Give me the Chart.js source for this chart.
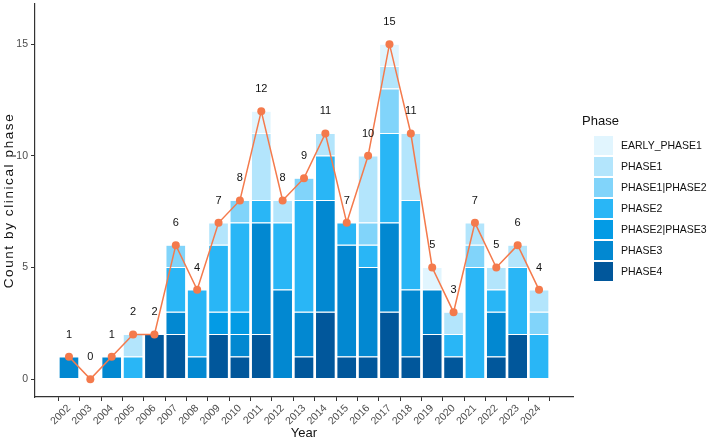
<!DOCTYPE html>
<html>
<head>
<meta charset="utf-8">
<script src="https://cdn.jsdelivr.net/npm/chart.js@4/dist/chart.umd.min.js"></script>
<style>
  html, body { margin: 0; padding: 0; background: #fff; }
  #wrap { width: 709px; height: 442px; position: relative; }
</style>
</head>
<body>
<div id="wrap"><canvas id="chart"></canvas></div>
<script>
const years = [2002, 2003, 2004, 2005, 2006, 2007, 2008, 2009, 2010, 2011, 2012, 2013,
  2014, 2015, 2016, 2017, 2018, 2019, 2020, 2021, 2022, 2023, 2024];

// counts per phase, bottom of stack first
const phase4 =      [0, 0, 0, 0, 2, 2, 0, 2, 1, 2, 0, 1, 3, 1, 1, 3, 1, 2, 1, 0, 1, 2, 0];
const phase3 =      [1, 0, 1, 0, 0, 1, 1, 0, 1, 5, 4, 2, 5, 5, 4, 4, 3, 2, 0, 0, 2, 0, 0];
const phase2_3 =    [0, 0, 0, 0, 0, 0, 0, 1, 1, 0, 0, 0, 0, 0, 0, 0, 0, 0, 0, 0, 0, 0, 0];
const phase2 =      [0, 0, 0, 1, 0, 2, 3, 3, 4, 1, 3, 5, 2, 1, 1, 4, 4, 0, 1, 5, 1, 3, 2];
const phase1_2 =    [0, 0, 0, 0, 0, 1, 0, 0, 1, 0, 0, 1, 0, 0, 1, 2, 0, 0, 0, 1, 0, 0, 1];
const phase1 =      [0, 0, 0, 1, 0, 0, 0, 1, 0, 3, 1, 0, 1, 0, 3, 1, 3, 0, 1, 1, 1, 1, 1];
const earlyPhase1 = [0, 0, 0, 0, 0, 0, 0, 0, 0, 1, 0, 0, 0, 0, 0, 1, 0, 1, 0, 0, 0, 0, 0];

const totals = [1, 0, 1, 2, 2, 6, 4, 7, 8, 12, 8, 9, 11, 7, 10, 15, 11, 5, 3, 7, 5, 6, 4];

const yTicks = [0, 5, 10, 15];

const phases = [
  { name: "PHASE4", data: phase4, color: "#01579B" },
  { name: "PHASE3", data: phase3, color: "#0288D1" },
  { name: "PHASE2|PHASE3", data: phase2_3, color: "#039BE5" },
  { name: "PHASE2", data: phase2, color: "#29B6F6" },
  { name: "PHASE1|PHASE2", data: phase1_2, color: "#81D4FA" },
  { name: "PHASE1", data: phase1, color: "#B3E5FC" },
  { name: "EARLY_PHASE1", data: earlyPhase1, color: "#E1F5FE" },
];

const FONT = "'Liberation Sans', Arial, Helvetica, sans-serif";
const lineColor = "#F47A4C";

const barSets = phases.map((p) => ({
  type: "bar",
  label: p.name,
  data: years.map((yr, i) => ({ x: yr, y: p.data[i] || null })),
  backgroundColor: p.color,
  borderColor: "#ffffff",
  borderWidth: 0.6,
  borderSkipped: false,
  stack: "phase",
  order: 2,
  barPercentage: 0.93,
  categoryPercentage: 1.0,
}));

const totalLine = {
  type: "line",
  label: "total",
  data: years.map((yr, i) => ({ x: yr, y: totals[i] })),
  borderColor: lineColor,
  backgroundColor: lineColor,
  borderWidth: 1.5,
  pointRadius: 4,
  pointBorderWidth: 0,
  pointBackgroundColor: lineColor,
  stack: "total",
  order: 0,
  tension: 0,
};

const totalLabels = {
  id: "totalLabels",
  afterDatasetsDraw(chart) {
    const { ctx, scales } = chart;
    ctx.save();
    ctx.font = `11px ${FONT}`;
    ctx.fillStyle = "#111";
    ctx.textAlign = "center";
    ctx.textBaseline = "middle";
    years.forEach((yr, i) => {
      ctx.fillText(String(totals[i]), scales.x.getPixelForValue(yr), scales.y.getPixelForValue(totals[i] + 1));
    });
    ctx.restore();
  },
};

// y title drawn by hand, the reference text is widely spaced
const yTitle = {
  id: "yTitle",
  afterDraw(chart) {
    const { ctx, chartArea } = chart;
    ctx.save();
    ctx.translate(9, (chartArea.top + chartArea.bottom) / 2);
    ctx.rotate(-Math.PI / 2);
    ctx.font = `13.5px ${FONT}`;
    ctx.letterSpacing = "1.6px";
    ctx.fillStyle = "#111";
    ctx.textAlign = "center";
    ctx.textBaseline = "middle";
    ctx.fillText("Count by clinical phase", 0, 0);
    ctx.restore();
  },
};

// ggplot-style legend on the right
const phaseLegend = {
  id: "phaseLegend",
  afterDraw(chart) {
    const { ctx } = chart;
    const left = chart.chartArea.right + 9;
    ctx.save();
    ctx.fillStyle = "#111";
    ctx.textBaseline = "middle";
    ctx.textAlign = "left";
    ctx.font = `13px ${FONT}`;
    ctx.fillText("Phase", left, 121);
    ctx.font = `10.5px ${FONT}`;
    phases.slice().reverse().forEach((p, i) => {
      const top = 136 + i * 21;
      ctx.fillStyle = p.color;
      ctx.fillRect(left + 12, top, 19, 19);
      ctx.fillStyle = "#111";
      ctx.fillText(p.name, left + 39, top + 10);
    });
    ctx.restore();
  },
};

new Chart(document.getElementById("chart"), {
  data: { datasets: [...barSets, totalLine] },
  plugins: [totalLabels, yTitle, phaseLegend],
  options: {
    responsive: true,
    maintainAspectRatio: false,
    animation: false,
    layout: { padding: { top: 1.5, left: 0, right: 136, bottom: 1 } },
    plugins: {
      tooltip: { enabled: false },
      legend: { display: false },
    },
    scales: {
      x: {
        type: "linear",
        offset: false,
        min: years[0] - 1.59,
        max: years[years.length - 1] + 1.59,
        afterBuildTicks: (scale) => {
          scale.ticks = years.map((v) => ({ value: v }));
        },
        afterFit: (scale) => {
          scale.height = 44;
          scale.paddingLeft = 0;
          scale.paddingRight = 0;
        },
        ticks: {
          autoSkip: false,
          minRotation: 45,
          maxRotation: 45,
          padding: 1,
          color: "#4D4D4D",
          font: { family: FONT, size: 10.5 },
          callback: (v) => String(v),
        },
        grid: { display: true, drawOnChartArea: false, drawTicks: true, tickLength: 4, color: "#333" },
        border: { display: true, color: "#333", width: 1.2 },
        title: {
          display: true,
          text: "Year",
          color: "#111",
          font: { family: FONT, size: 13 },
          padding: { top: 0, bottom: 0 },
        },
      },
      y: {
        stacked: true,
        min: -0.8,
        max: 16.8,
        afterBuildTicks: (scale) => {
          scale.ticks = yTicks.map((v) => ({ value: v }));
        },
        afterFit: (scale) => {
          scale.width = 35;
          scale.paddingTop = 0;
          scale.paddingBottom = 0;
        },
        ticks: {
          padding: 3,
          color: "#4D4D4D",
          font: { family: FONT, size: 10.5 },
        },
        grid: { display: true, drawOnChartArea: false, drawTicks: true, tickLength: 4, color: "#333" },
        border: { display: true, color: "#333", width: 1.2 },
      },
    },
  },
});
</script>
</body>
</html>
